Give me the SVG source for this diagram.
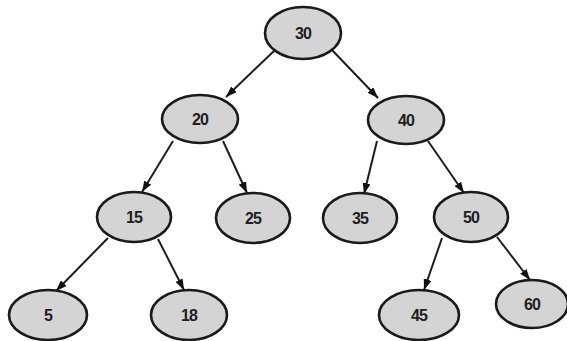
<svg xmlns="http://www.w3.org/2000/svg" width="567" height="341" viewBox="0 0 567 341">
<style>
.node ellipse{fill:#d4d4d4;stroke:#1a1a1a;stroke-width:2.6}
.node text{font-family:"Liberation Sans",Arial,sans-serif;font-weight:bold;font-size:16px;fill:#1e1e1e;text-anchor:middle;dominant-baseline:central;letter-spacing:-0.8px}
.edges line{stroke:#1e1e1e;stroke-width:2;marker-end:url(#arr)}
</style>
<defs>
<marker id="arr" viewBox="0 0 11 8" refX="11" refY="4" markerWidth="11" markerHeight="8" markerUnits="userSpaceOnUse" orient="auto">
<path d="M0,0 L11,4 L0,8 Z" fill="#111"/>
</marker>
</defs>
<rect width="567" height="341" fill="#ffffff"/>
<g class="edges">
<line x1="275" y1="50" x2="226" y2="97"/>
<line x1="332" y1="50" x2="378" y2="98"/>
<line x1="173" y1="141" x2="142" y2="192"/>
<line x1="223" y1="141" x2="247" y2="193"/>
<line x1="377" y1="141" x2="364" y2="194"/>
<line x1="428" y1="141" x2="464" y2="193"/>
<line x1="108" y1="238" x2="56" y2="291"/>
<line x1="158" y1="239" x2="184" y2="290"/>
<line x1="442" y1="238" x2="424" y2="290"/>
<line x1="497" y1="237" x2="530" y2="280"/>
</g>
<g id="n30" class="node"><ellipse cx="303" cy="33" rx="38" ry="26"/><text x="303" y="33">30</text></g>
<g id="n20" class="node"><ellipse cx="200" cy="119" rx="38" ry="24"/><text x="200" y="119">20</text></g>
<g id="n40" class="node"><ellipse cx="406" cy="120" rx="38" ry="24"/><text x="406" y="120">40</text></g>
<g id="n15" class="node"><ellipse cx="134" cy="217" rx="37" ry="25"/><text x="134" y="217">15</text></g>
<g id="n25" class="node"><ellipse cx="253" cy="218" rx="37" ry="25"/><text x="253" y="218">25</text></g>
<g id="n35" class="node"><ellipse cx="360" cy="218" rx="37" ry="25"/><text x="360" y="218">35</text></g>
<g id="n50" class="node"><ellipse cx="471" cy="217" rx="37" ry="25"/><text x="471" y="217">50</text></g>
<g id="n5" class="node"><ellipse cx="48" cy="315" rx="39" ry="25"/><text x="48" y="315">5</text></g>
<g id="n18" class="node"><ellipse cx="189" cy="315" rx="38" ry="25"/><text x="189" y="315">18</text></g>
<g id="n45" class="node"><ellipse cx="419" cy="315" rx="40" ry="25"/><text x="419" y="315">45</text></g>
<g id="n60" class="node"><ellipse cx="532" cy="304" rx="36" ry="24"/><text x="532" y="304">60</text></g>
</svg>
